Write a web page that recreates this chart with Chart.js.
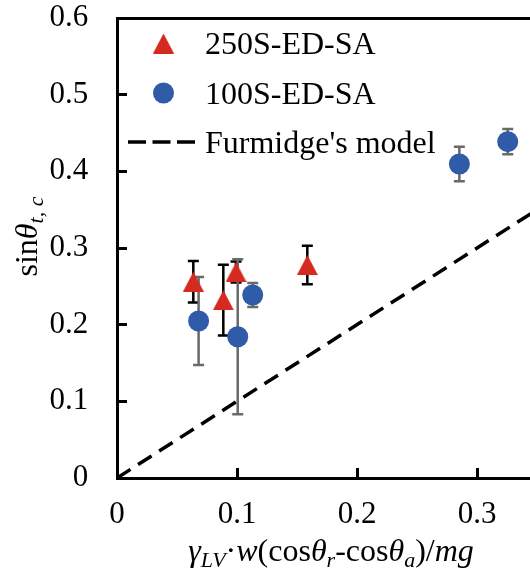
<!DOCTYPE html>
<html>
<head>
<meta charset="utf-8">
<script src="https://cdn.jsdelivr.net/npm/chart.js@4.4.1/dist/chart.umd.min.js"></script>
<style>
  html, body { margin: 0; padding: 0; background: #fff; overflow: hidden; }
  canvas { display: block; }
</style>
</head>
<body>
<canvas id="chart" width="537" height="583"></canvas>
<script>
const SERIF = '"Liberation Serif", "Times New Roman", serif';
const RED = '#d52a1f';
const BLUE = '#2f5ba8';

const X_TICKS = [0, 0.1, 0.2, 0.3];
const Y_TICKS = [0, 0.1, 0.2, 0.3, 0.4, 0.5, 0.6];

// 250S-ED-SA
const s250X = [0.0636, 0.0886, 0.0992, 0.1586];
const s250Y = [0.256, 0.232, 0.2686, 0.2778];
const s250Err = [0.027, 0.046, 0.0137, 0.025];

// 100S-ED-SA
const s100X = [0.068, 0.1006, 0.1131, 0.2853, 0.3256];
const s100Y = [0.2048, 0.1843, 0.2387, 0.4096, 0.4387];
const s100Err = [0.0575, 0.101, 0.0157, 0.0224, 0.0165];

// Furmidge's model: sin(theta) equals the force term
const modelX = [0, 0.35];
const modelY = [0, 0.35];

const points = (xs, ys) => xs.map((x, i) => ({ x, y: ys[i] }));

// triangle sized by its box, so it sits centred on the value like the error bar
function triangleImage(w, h, color) {
    const c = document.createElement('canvas');
    c.width = w;
    c.height = h;
    const g = c.getContext('2d');
    g.fillStyle = color;
    g.beginPath();
    g.moveTo(w / 2, 0);
    g.lineTo(w, h);
    g.lineTo(0, h);
    g.closePath();
    g.fill();
    return c;
}
const TRIANGLE = triangleImage(21, 20, RED);

const font = (size, italic) => `${italic ? 'italic ' : ''}${size}px ${SERIF}`;

// mixed-style text: parts are [text, size, italic, baseline shift]
function drawRich(ctx, parts, x, y) {
    let total = 0;
    const widths = parts.map(([t, size, it]) => {
        ctx.font = font(size, it);
        const w = ctx.measureText(t).width;
        total += w;
        return w;
    });
    let cx = x - total / 2;
    ctx.textAlign = 'left';
    ctx.textBaseline = 'alphabetic';
    parts.forEach(([t, size, it, shift], i) => {
        ctx.font = font(size, it);
        ctx.fillText(t, cx, y + shift);
        cx += widths[i];
    });
}

const errorBars = {
    id: 'errorBars',
    beforeDatasetsDraw(chart) {
        const ctx = chart.ctx;
        const yScale = chart.scales.y;
        chart.data.datasets.forEach((ds, di) => {
            if (!ds.errors) return;
            const meta = chart.getDatasetMeta(di);
            ctx.save();
            ctx.strokeStyle = ds.errorColor;
            ctx.lineWidth = 2.5;
            meta.data.forEach((pt, i) => {
                const v = ds.data[i].y;
                const e = ds.errors[i];
                const top = yScale.getPixelForValue(v + e);
                const bot = yScale.getPixelForValue(v - e);
                ctx.beginPath();
                ctx.moveTo(pt.x, top);
                ctx.lineTo(pt.x, bot);
                ctx.moveTo(pt.x - 5.5, top);
                ctx.lineTo(pt.x + 5.5, top);
                ctx.moveTo(pt.x - 5.5, bot);
                ctx.lineTo(pt.x + 5.5, bot);
                ctx.stroke();
            });
            ctx.restore();
        });
    },
};

const annotations = {
    id: 'annotations',
    afterDraw(chart) {
        const ctx = chart.ctx;
        const ds = chart.data.datasets;
        ctx.save();

        // legend inside the plot, top left
        const rows = [43.5, 93, 142];
        const markX = 163.5;
        const textX = 205;
        [0, 1].forEach((i) => {
            ctx.fillStyle = ds[i].pointBackgroundColor;
            Chart.helpers.drawPoint(ctx, {
                pointStyle: ds[i].pointStyle,
                radius: ds[i].pointRadius,
                rotation: 0,
                borderWidth: 0,
            }, markX, rows[i]);
        });
        ctx.strokeStyle = ds[2].borderColor;
        ctx.lineWidth = ds[2].borderWidth;
        ctx.setLineDash([18, 6.5]);
        ctx.beginPath();
        ctx.moveTo(128, rows[2]);
        ctx.lineTo(198, rows[2]);
        ctx.stroke();
        ctx.setLineDash([]);

        ctx.fillStyle = '#000';
        ctx.font = font(32, false);
        ctx.textAlign = 'left';
        ctx.textBaseline = 'alphabetic';
        ds.forEach((d, i) => ctx.fillText(d.label, textX, rows[i] + 10.5));

        // axis titles
        drawRich(ctx, [
            ['\u03b3', 32, true, 0],
            ['LV', 22, true, 6],
            ['\u00b7', 32, false, 0],
            ['w', 32, true, 0],
            ['(cos', 32, false, 0],
            ['\u03b8', 32, true, 0],
            ['r', 22, true, 6],
            ['-cos', 32, false, 0],
            ['\u03b8', 32, true, 0],
            ['a', 22, true, 6],
            [')/', 32, false, 0],
            ['mg', 32, true, 0],
        ], 331, 561);

        ctx.translate(37, 236.5);
        ctx.rotate(-Math.PI / 2);
        drawRich(ctx, [
            ['sin', 32, false, 0],
            ['\u03b8', 32, true, 0],
            ['t, c', 22, true, 6],
        ], 0, 0);
        ctx.restore();
    },
};

const tickFont = { family: SERIF, size: 31, lineHeight: 1.1 };

// fixed box sizes; label overhang is not allowed to shrink the plot area
function fixBox(w, h) {
    return (s) => {
        if (w !== null) s.width = w;
        if (h !== null) s.height = h;
        s.paddingTop = 0;
        s.paddingBottom = 0;
        s.paddingLeft = 0;
        s.paddingRight = 0;
    };
}

new Chart(document.getElementById('chart'), {
    type: 'scatter',
    data: {
        datasets: [
            {
                label: '250S-ED-SA',
                data: points(s250X, s250Y),
                errors: s250Err,
                errorColor: '#000',
                pointStyle: TRIANGLE,
                pointRadius: 11,
                pointBackgroundColor: RED,
                pointBorderWidth: 0,
            },
            {
                label: '100S-ED-SA',
                data: points(s100X, s100Y),
                errors: s100Err,
                errorColor: '#6a6a6a',
                pointStyle: 'circle',
                pointRadius: 10.5,
                pointBackgroundColor: BLUE,
                pointBorderWidth: 0,
            },
            {
                label: "Furmidge's model",
                data: points(modelX, modelY),
                showLine: true,
                pointRadius: 0,
                borderColor: '#000',
                borderWidth: 3.5,
                borderDash: [16, 9],
            },
        ],
    },
    options: {
        responsive: false,
        animation: false,
        devicePixelRatio: 1,
        layout: { padding: 0, autoPadding: false },
        plugins: {
            legend: { display: false },
            tooltip: { enabled: false },
        },
        scales: {
            x: {
                type: 'linear',
                position: 'bottom',
                min: 0,
                max: 0.35,
                afterBuildTicks: (s) => { s.ticks = X_TICKS.map((value) => ({ value })); },
                afterFit: fixBox(null, 105),
                ticks: { font: tickFont, color: '#000', padding: 29.5, maxRotation: 0, callback: (v) => String(v) },
                grid: { drawOnChartArea: false, tickLength: -10, tickWidth: 3, tickColor: '#000' },
                border: { color: '#000', width: 3 },
            },
            y: {
                type: 'linear',
                position: 'left',
                min: 0,
                max: 0.6,
                afterBuildTicks: (s) => { s.ticks = Y_TICKS.map((value) => ({ value })); },
                afterFit: fixBox(117, null),
                ticks: { font: tickFont, color: '#000', padding: 38.7, callback: (v) => String(v) },
                grid: { drawOnChartArea: false, tickLength: -10, tickWidth: 3, tickColor: '#000' },
                border: { color: '#000', width: 3 },
            },
            xTop: {
                type: 'linear',
                axis: 'x',
                position: 'top',
                min: 0,
                max: 0.35,
                afterFit: fixBox(null, 18),
                ticks: { display: false },
                grid: { drawOnChartArea: false, drawTicks: false },
                border: { color: '#000', width: 3 },
            },
        },
    },
    plugins: [errorBars, annotations],
});
</script>
</body>
</html>
